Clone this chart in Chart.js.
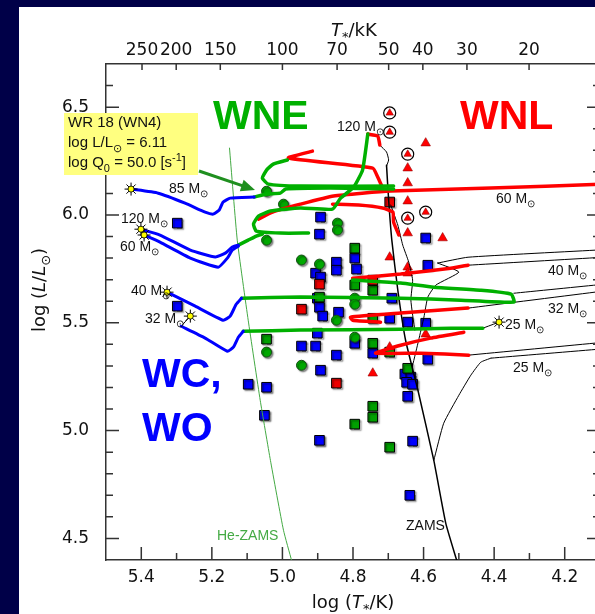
<!DOCTYPE html>
<html lang="en">
  <head>
    <meta charset="UTF-8" />
    <title>HRD of Galactic WN stars with evolutionary tracks</title>
    <script src="https://cdn.jsdelivr.net/npm/chart.js"></script>
    <style>
      html, body { margin: 0; padding: 0; background: #fff; overflow: hidden; }
      #hrd { display: block; }
    </style>
  </head>
  <body>
    <canvas id="hrd" width="610" height="614"></canvas>

    <script>
      // ---- axis ticks ----
      const xTickValues = [4.2, 4.4, 4.6, 4.8, 5.0, 5.2, 5.4];
      const yTickValues = [4.5, 5.0, 5.5, 6.0, 6.5];
      const topTempsKK = [250, 200, 150, 100, 70, 50, 40, 30, 20];

      // ---- reference lines: [log T, log L] ----
      const heZams = [[5.150, 6.31], [5.128, 5.883], [5.097, 5.512], [5.063, 5.141], [5.034, 4.862], [4.997, 4.538], [4.974, 4.398]];
      const zams = [[4.705, 6.231], [4.699, 6.069], [4.690, 5.883], [4.673, 5.651], [4.651, 5.419], [4.616, 5.187], [4.571, 4.862], [4.537, 4.570], [4.506, 4.398]];

      // ---- tracks, by mass and phase ----
      const t120Black = [[4.724, 6.324], [4.705, 6.292], [4.699, 6.255], [4.705, 6.227]];
      const t120Red = [[4.758, 6.375], [4.730, 6.366], [4.724, 6.324]];
      const t120Green = [[4.758, 6.375], [4.773, 6.208], [4.798, 6.129], [4.835, 6.078], [4.858, 6.027], [4.949, 6.032], [5.034, 6.018], [5.068, 5.995], [5.082, 5.958], [5.074, 5.925], [5.006, 5.916], [4.926, 5.916]];
      const t120Green2 = [[5.125, 5.860], [5.097, 5.883], [5.074, 5.902], [5.057, 5.911]];
      const t120Blue = [[5.401, 5.934], [5.347, 5.907], [5.261, 5.837], [5.190, 5.805], [5.162, 5.823], [5.142, 5.851], [5.125, 5.860]];

      const t85Red = [[4.915, 6.296], [4.983, 6.264], [4.744, 6.217], [4.730, 6.176], [4.716, 6.125]];
      const t85GreenA = [[4.986, 6.255], [5.026, 6.236], [5.045, 6.208], [5.057, 6.171], [5.040, 6.143], [4.949, 6.134], [4.685, 6.134]];
      const t85GreenB = [[5.080, 6.083], [5.045, 6.097], [5.006, 6.101], [4.991, 6.120], [4.864, 6.125], [4.685, 6.120]];
      const t85Blue = [[5.429, 6.120], [5.352, 6.101], [5.276, 6.055], [5.219, 6.013], [5.196, 6.004], [5.179, 6.023], [5.168, 6.060], [5.148, 6.078], [5.080, 6.083]];

      const t60Red = [[4.10, 6.142], [4.409, 6.125], [4.693, 6.111], [4.855, 6.088], [4.949, 6.050], [5.028, 6.013], [5.068, 5.981]];
      const t60Red2 = [[4.858, 6.050], [4.784, 6.046], [4.716, 6.032], [4.687, 6.013], [4.685, 5.967], [4.670, 5.907]];
      const t60Blue = [[5.392, 5.907], [5.347, 5.874], [5.261, 5.800], [5.182, 5.758], [5.156, 5.800], [5.142, 5.837], [5.125, 5.855]];
      const t60MainSeq = [[4.693, 6.046], [4.673, 5.953], [4.659, 5.860], [4.642, 5.781], [4.631, 5.698], [4.636, 5.605], [4.625, 5.466]];

      const t40Blue = [[5.327, 5.642], [5.247, 5.577], [5.168, 5.512], [5.148, 5.531], [5.131, 5.586], [5.116, 5.614]];
      const t40Green = [[5.116, 5.614], [4.949, 5.619], [4.665, 5.614], [4.494, 5.605], [4.344, 5.596], [4.352, 5.633], [4.437, 5.651], [4.571, 5.665], [4.665, 5.684], [4.750, 5.693], [4.801, 5.698]];
      const t40Red = [[4.801, 5.707], [4.665, 5.726], [4.523, 5.753], [4.474, 5.767]];
      const t40BlackOut = [[4.560, 5.777], [4.474, 5.804], [4.10, 5.838]];
      const t40BlackBack = [[4.474, 5.767], [4.10, 5.803]];
      const t40MainSeq = [[4.560, 5.777], [4.500, 5.735], [4.565, 5.675], [4.588, 5.619], [4.599, 5.526], [4.614, 5.419], [4.631, 5.303]];

      const t32Tail = [[5.261, 5.531], [5.287, 5.484]];
      const t32Blue = [[5.287, 5.484], [5.219, 5.429], [5.156, 5.368], [5.139, 5.387], [5.125, 5.433], [5.111, 5.461]];
      const t32Green = [[5.111, 5.461], [4.949, 5.466], [4.665, 5.470], [4.523, 5.475], [4.432, 5.475]];
      const t32Red = [[4.722, 5.503], [4.801, 5.512], [4.807, 5.526], [4.665, 5.545], [4.474, 5.568]];
      const t32BlackOut = [[4.474, 5.568], [4.10, 5.645]];
      const t32BlackBack = [[4.344, 5.637], [4.10, 5.677]];

      const t25Tail = [[4.432, 5.475], [4.386, 5.503]];
      const t25Red = [[4.486, 5.456], [4.580, 5.429], [4.665, 5.396], [4.736, 5.359], [4.608, 5.359], [4.472, 5.350]];
      const t25BlackOut = [[4.472, 5.350], [4.10, 5.408]];
      const t25BlackBack = [[4.409, 5.336], [4.10, 5.378]];
      const t25MainSeq = [[4.409, 5.336], [4.438, 5.317], [4.466, 5.257], [4.500, 5.164], [4.543, 5.034], [4.571, 4.862]];

      // ---- stars ----
      const trackEnds = [[5.429, 6.120], [5.401, 5.934], [5.392, 5.907], [5.327, 5.642], [5.261, 5.531], [4.386, 5.503]];

      const blueSquares = [
        [5.298, 5.962], [5.298, 5.577], [5.097, 5.215], [5.045, 5.201], [5.051, 5.071], [4.895, 4.955],
        [4.639, 4.700], [4.631, 4.951], [4.645, 5.159], [4.653, 5.262], [4.636, 5.248], [4.648, 5.224],
        [4.631, 5.215], [4.892, 5.990], [4.895, 5.911], [4.594, 5.893], [4.795, 5.800], [4.847, 5.781],
        [4.790, 5.749], [4.906, 5.730], [4.892, 5.712], [4.847, 5.744], [4.588, 5.767], [4.901, 5.614],
        [4.895, 5.572], [4.886, 5.531], [4.841, 5.549], [4.690, 5.614], [4.696, 5.521], [4.645, 5.503],
        [4.594, 5.498], [4.901, 5.452], [4.795, 5.405], [4.946, 5.392], [4.906, 5.392], [4.847, 5.350],
        [4.744, 5.359], [4.588, 5.331], [4.892, 5.280]
      ];
      const greenSquares = [
        [4.795, 5.846], [4.795, 5.675], [4.744, 5.651], [4.895, 5.619], [4.744, 5.521], [4.744, 5.405],
        [4.696, 5.364], [4.645, 5.289], [4.744, 5.113], [4.744, 5.062], [4.795, 5.030], [4.696, 4.923],
        [5.045, 5.424]
      ];
      const redSquares = [[4.744, 5.698], [4.946, 5.563], [4.895, 5.679], [4.847, 5.220], [4.696, 6.060]];
      const greenCircles = [
        [5.045, 6.110], [4.997, 6.050], [4.844, 5.962], [4.844, 5.930], [5.045, 5.883], [4.946, 5.791],
        [4.895, 5.772], [4.795, 5.614], [4.795, 5.586], [4.847, 5.512], [4.795, 5.433], [4.946, 5.303],
        [5.045, 5.364]
      ];
      const redTriangles = [
        [4.594, 6.333], [4.645, 6.217], [4.645, 6.148], [4.645, 6.064], [4.645, 5.916], [4.546, 5.893],
        [4.696, 5.804], [4.645, 5.758], [4.645, 5.730], [4.594, 5.447], [4.696, 5.387], [4.744, 5.266]
      ];
      const circledTriangles = [[4.696, 6.473], [4.696, 6.384], [4.645, 6.282], [4.645, 5.985], [4.594, 6.013]];

      const FONT = '"Liberation Sans", Arial, sans-serif';
      const AXIS_FONT = '"DejaVu Sans", Verdana, sans-serif';
      const NAVY = '#000048';
      const AXIS = '#333';
      const RED = '#ff0000';
      const GREEN = '#00b000';
      const BLUE = '#0000ff';

      const pts = arr => arr.map(([x, y]) => ({ x, y }));

      function track(arr, color, width, order) {
        return {
          data: pts(arr), showLine: true, borderColor: color, borderWidth: width,
          pointRadius: 0, tension: 0.15, order,
          borderJoinStyle: 'round', borderCapStyle: 'round'
        };
      }

      function marks(arr, style, radius, fill, stroke, width, order, shadow) {
        return {
          data: pts(arr), showLine: false, pointStyle: style, pointRadius: radius,
          backgroundColor: fill, borderColor: stroke, borderWidth: width, order, shadow
        };
      }

      const datasets = [
        // stars at the end of the tracks
        marks(trackEnds, 'circle', 3, '#ffff00', '#000', 0.8, 0),
        marks(trackEnds, 'star', 6.5, '#000', '#000', 1, 1),

        // coloured phases
        track(t85Blue, BLUE, 3, 2), track(t120Blue, BLUE, 3, 2), track(t60Blue, BLUE, 3, 2),
        track(t40Blue, BLUE, 3, 2), track(t32Blue, BLUE, 3, 2),
        track(t120Green, GREEN, 3.5, 3), track(t120Green2, GREEN, 3.5, 3),
        track(t85GreenA, GREEN, 3.5, 3), track(t85GreenB, GREEN, 3.5, 3),
        track(t40Green, GREEN, 3.5, 3), track(t32Green, GREEN, 3.5, 3),
        track(t120Red, RED, 3.5, 3), track(t85Red, RED, 3.5, 3), track(t60Red, RED, 3.5, 3),
        track(t60Red2, RED, 3.5, 3), track(t40Red, RED, 3.5, 3), track(t32Red, RED, 3.5, 3),
        track(t25Red, RED, 3.5, 3),

        // hydrogen-rich parts and ZAMS
        track(t120Black, '#000', 1, 4), track(t60MainSeq, '#000', 1, 4),
        track(t40BlackOut, '#000', 1, 4), track(t40BlackBack, '#000', 1, 4), track(t40MainSeq, '#000', 1, 4),
        track(t32Tail, '#000', 1, 4), track(t32BlackOut, '#000', 1, 4), track(t32BlackBack, '#000', 1, 4),
        track(t25Tail, '#000', 1, 4), track(t25BlackOut, '#000', 1, 4), track(t25BlackBack, '#000', 1, 4),
        track(t25MainSeq, '#000', 1, 4),
        track(zams, '#000', 1.5, 4),
        track(heZams, '#44aa44', 1, 4),

        // observed stars
        marks(circledTriangles, 'triangle', 4.3, '#ff0000', '#900', 0.6, 5),
        marks(circledTriangles, 'circle', 6, '#fff', '#000', 1.2, 6),
        marks(redTriangles, 'triangle', 5.5, '#ff0000', '#900', 0.6, 6),
        marks(greenCircles, 'circle', 5, '#00a800', '#174d17', 1, 7, true),
        marks(redSquares, 'rect', 6.8, '#ee0000', '#000', 1, 7, true),
        marks(greenSquares, 'rect', 6.8, '#00a000', '#000', 1, 7, true),
        marks(blueSquares, 'rect', 6.8, '#0000ff', '#000', 1, 7, true)
      ];

      // text drawn in pieces so that italics, sub- and superscripts work
      function drawRich(ctx, parts, x, y, size, color, align, family) {
        const fam = family || FONT;
        const fontOf = p => `${p.i ? 'italic ' : ''}${p.s ? Math.round(size * 0.7) : size}px ${fam}`;
        let total = 0;
        parts.forEach(p => { ctx.font = fontOf(p); p.w = ctx.measureText(p.t).width; total += p.w; });
        let cx = align === 'center' ? x - total / 2 : x;
        ctx.fillStyle = color;
        ctx.textAlign = 'left';
        ctx.textBaseline = 'alphabetic';
        parts.forEach(p => {
          ctx.font = fontOf(p);
          const dy = p.s === 'sub' ? size * 0.3 : p.s === 'sup' ? -size * 0.4 : 0;
          ctx.fillText(p.t, cx, y + dy);
          cx += p.w;
        });
      }

      const massLabel = m => [{ t: m + ' M' }, { t: '\u2299', s: 'sub' }];

      const massLabels = [
        ['85', 169, 193], ['120', 121, 223], ['60', 120, 251], ['40', 131, 295], ['32', 145, 323],
        ['120', 337, 131], ['60', 496, 203], ['40', 548, 275], ['32', 548, 313], ['25', 505, 329], ['25', 513, 372]
      ];

      const markerShadow = {
        id: 'markerShadow',
        beforeDatasetDraw(chart, args) {
          if (!chart.data.datasets[args.index].shadow) return;
          const ctx = chart.ctx;
          ctx.save();
          ctx.shadowColor = 'rgba(0,0,0,0.45)';
          ctx.shadowOffsetX = 1.5;
          ctx.shadowOffsetY = 1.5;
          ctx.shadowBlur = 1.5;
        },
        afterDatasetDraw(chart, args) {
          if (chart.data.datasets[args.index].shadow) chart.ctx.restore();
        }
      };

      const decorations = {
        id: 'decorations',
        beforeDraw(chart) {
          const { ctx, width, height } = chart;
          ctx.save();
          ctx.fillStyle = '#fff';
          ctx.fillRect(0, 0, width, height);
          ctx.fillStyle = NAVY;
          ctx.fillRect(0, 0, 19, height);
          ctx.fillRect(0, 0, width, 7);
          ctx.restore();
        },
        afterDraw(chart) {
          const { ctx, chartArea: a, scales: { x, y } } = chart;
          ctx.save();

          // inward tick marks and the right-hand axis
          ctx.strokeStyle = AXIS;
          ctx.lineWidth = 1.5;
          ctx.beginPath();
          for (let k = 42; k <= 54; k++) {
            const px = x.getPixelForValue(k / 10);
            const len = k % 2 === 0 ? 13 : 7;
            ctx.moveTo(px, a.bottom);
            ctx.lineTo(px, a.bottom - len);
          }
          for (let k = 45; k <= 66; k++) {
            const py = y.getPixelForValue(k / 10);
            const len = k % 5 === 0 ? 13 : 7;
            ctx.moveTo(a.left, py);
            ctx.lineTo(a.left + len, py);
            ctx.moveTo(a.right, py);
            ctx.lineTo(a.right - len, py);
          }
          topTempsKK.forEach(t => {
            const px = x.getPixelForValue(Math.log10(t * 1000));
            ctx.moveTo(px, a.top);
            ctx.lineTo(px, a.top + 6);
          });
          ctx.moveTo(a.right, a.top);
          ctx.lineTo(a.right, a.bottom);
          ctx.stroke();

          // axis titles
          drawRich(ctx, [{ t: 'log (' }, { t: 'T', i: true }, { t: '*', s: 'sub' }, { t: '/K)' }], 353, 608, 18, '#111', 'center', AXIS_FONT);
          drawRich(ctx, [{ t: 'T', i: true }, { t: '*', s: 'sub' }, { t: '/kK' }], 331, 36, 18, '#111', 'left', AXIS_FONT);
          ctx.save();
          ctx.translate(45, 290);
          ctx.rotate(-Math.PI / 2);
          drawRich(ctx, [{ t: 'log (' }, { t: 'L', i: true }, { t: '/' }, { t: 'L', i: true }, { t: '\u2299', s: 'sub' }, { t: ')' }], 0, 0, 18, '#111', 'center', AXIS_FONT);
          ctx.restore();

          // spectral class regions
          ctx.font = `bold 41px ${FONT}`;
          ctx.textAlign = 'left';
          ctx.textBaseline = 'alphabetic';
          ctx.fillStyle = GREEN;
          ctx.fillText('WNE', 213, 129);
          ctx.fillStyle = RED;
          ctx.fillText('WNL', 460, 129);
          ctx.fillStyle = BLUE;
          ctx.fillText('WC,', 142, 387);
          ctx.fillText('WO', 142, 441);

          // initial masses
          massLabels.forEach(([m, lx, ly]) => drawRich(ctx, massLabel(m), lx, ly, 14, '#111'));

          ctx.font = `14px ${FONT}`;
          ctx.fillStyle = '#44aa44';
          ctx.fillText('He-ZAMS', 217, 540);
          ctx.fillStyle = '#111';
          ctx.fillText('ZAMS', 406, 530);

          // WR 18 annotation
          ctx.fillStyle = '#ffff80';
          ctx.fillRect(64, 113, 134, 62);
          drawRich(ctx, [{ t: 'WR 18 (WN4)' }], 68, 127, 15, '#111');
          drawRich(ctx, [{ t: 'log L/L' }, { t: '\u2299', s: 'sub' }, { t: ' = 6.11' }], 68, 147, 15, '#111');
          drawRich(ctx, [{ t: 'log Q' }, { t: '0', s: 'sub' }, { t: ' = 50.0 [s' }, { t: '-1', s: 'sup' }, { t: ']' }], 68, 167, 15, '#111');

          const ax0 = 199, ay0 = 171, ax1 = 255, ay1 = 190;
          const ang = Math.atan2(ay1 - ay0, ax1 - ax0);
          ctx.strokeStyle = '#1f8f1f';
          ctx.fillStyle = '#1f8f1f';
          ctx.lineWidth = 3;
          ctx.beginPath();
          ctx.moveTo(ax0, ay0);
          ctx.lineTo(ax1 - 12 * Math.cos(ang), ay1 - 12 * Math.sin(ang));
          ctx.stroke();
          ctx.beginPath();
          ctx.moveTo(ax1, ay1);
          ctx.lineTo(ax1 - 14 * Math.cos(ang) + 6 * Math.sin(ang), ay1 - 14 * Math.sin(ang) - 6 * Math.cos(ang));
          ctx.lineTo(ax1 - 14 * Math.cos(ang) - 6 * Math.sin(ang), ay1 - 14 * Math.sin(ang) + 6 * Math.cos(ang));
          ctx.closePath();
          ctx.fill();

          ctx.restore();
        }
      };

      const tickFont = { size: 17, family: AXIS_FONT };

      new Chart(document.getElementById('hrd'), {
        type: 'scatter',
        data: { datasets },
        options: {
          responsive: false,
          animation: false,
          devicePixelRatio: 1,
          layout: { padding: { left: 0, right: 10, top: 0, bottom: 0 } },
          plugins: { legend: { display: false }, tooltip: { enabled: false } },
          scales: {
            x: {
              type: 'linear', position: 'bottom', reverse: true, min: 4.1, max: 5.5,
              grid: { display: false, drawTicks: false },
              border: { display: true, color: AXIS, width: 1.5 },
              afterBuildTicks: s => { s.ticks = xTickValues.map(v => ({ value: v })); },
              afterFit: s => { s.height = 54; },
              ticks: { autoSkip: false, maxRotation: 0, minRotation: 0, padding: 7, color: '#111', font: tickFont, callback: v => v.toFixed(1) }
            },
            xTop: {
              type: 'linear', position: 'top', reverse: true, min: 4.1, max: 5.5,
              grid: { display: false, drawTicks: false },
              border: { display: true, color: AXIS, width: 1.5 },
              afterBuildTicks: s => { s.ticks = topTempsKK.map(t => ({ value: Math.log10(t * 1000) })); },
              afterFit: s => { s.height = 64; },
              ticks: { autoSkip: false, maxRotation: 0, minRotation: 0, padding: 3, color: '#111', font: tickFont, callback: (v, i) => String(topTempsKK[i]) }
            },
            y: {
              type: 'linear', position: 'left', min: 4.4, max: 6.7,
              grid: { display: false, drawTicks: false },
              border: { display: true, color: AXIS, width: 1.5 },
              afterBuildTicks: s => { s.ticks = yTickValues.map(v => ({ value: v })); },
              afterFit: s => { s.width = 106; },
              ticks: { autoSkip: false, padding: 17, color: '#111', font: tickFont, callback: v => v.toFixed(1) }
            }
          }
        },
        plugins: [markerShadow, decorations]
      });
    </script>
  </body>
</html>
